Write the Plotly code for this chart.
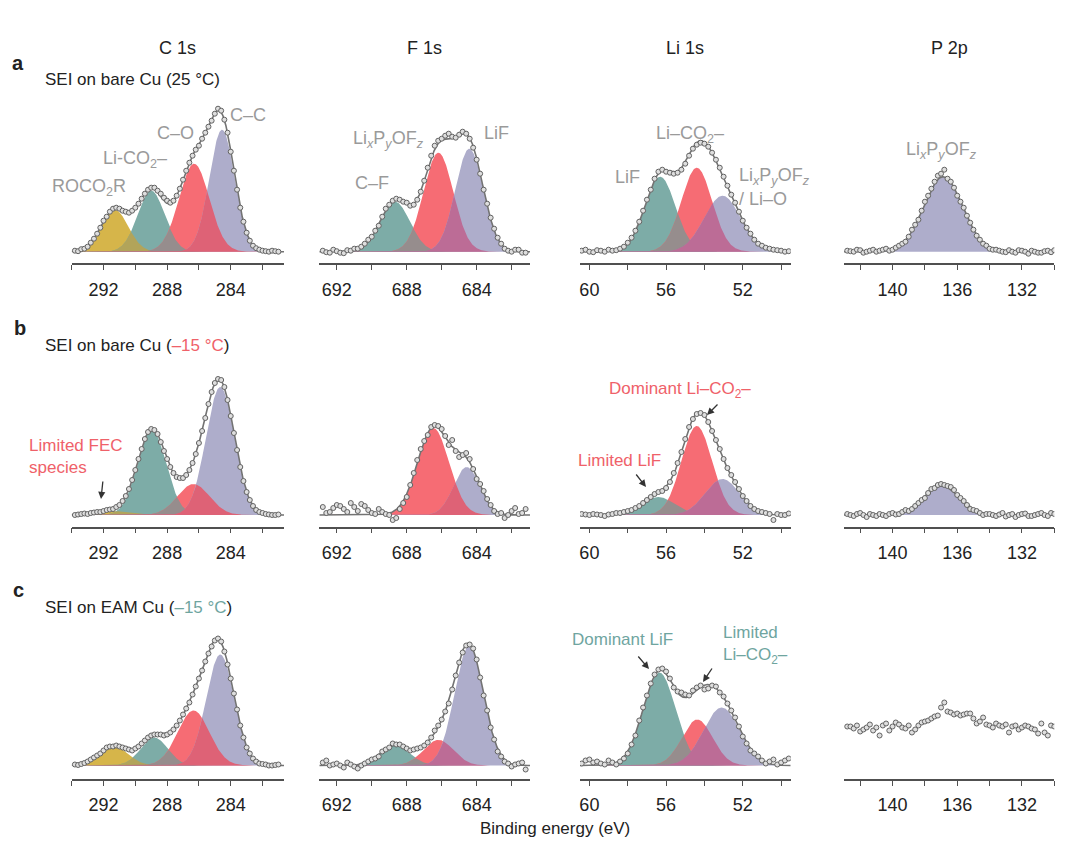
import numpy as np
import plotly.graph_objects as go

# ---------------- data: energy grids of the measured points (eV) ----------------
E_C1S = [293.8, 293.6, 293.4, 293.2, 293.0, 292.8, 292.6, 292.4, 292.2, 292.0,
         291.8, 291.6, 291.4, 291.2, 291.0, 290.8, 290.6, 290.4, 290.2, 290.0,
         289.8, 289.6, 289.4, 289.2, 289.0, 288.8, 288.6, 288.4, 288.2, 288.0,
         287.8, 287.6, 287.4, 287.2, 287.0, 286.8, 286.6, 286.4, 286.2, 286.0,
         285.8, 285.6, 285.4, 285.2, 285.0, 284.8, 284.6, 284.4, 284.2, 284.0,
         283.8, 283.6, 283.4, 283.2, 283.0, 282.8, 282.6, 282.4, 282.2, 282.0,
         281.8, 281.6, 281.4, 281.2, 281.0]
E_F1S = [692.8, 692.6, 692.4, 692.2, 692.0, 691.8, 691.6, 691.4, 691.2, 691.0,
         690.8, 690.6, 690.4, 690.2, 690.0, 689.8, 689.6, 689.4, 689.2, 689.0,
         688.8, 688.6, 688.4, 688.2, 688.0, 687.8, 687.6, 687.4, 687.2, 687.0,
         686.8, 686.6, 686.4, 686.2, 686.0, 685.8, 685.6, 685.4, 685.2, 685.0,
         684.8, 684.6, 684.4, 684.2, 684.0, 683.8, 683.6, 683.4, 683.2, 683.0,
         682.8, 682.6, 682.4, 682.2, 682.0, 681.8, 681.6, 681.4, 681.2]
E_LI1S = [60.4, 60.2, 60.0, 59.8, 59.6, 59.4, 59.2, 59.0, 58.8, 58.6,
          58.4, 58.2, 58.0, 57.8, 57.6, 57.4, 57.2, 57.0, 56.8, 56.6,
          56.4, 56.2, 56.0, 55.8, 55.6, 55.4, 55.2, 55.0, 54.8, 54.6,
          54.4, 54.2, 54.0, 53.8, 53.6, 53.4, 53.2, 53.0, 52.8, 52.6,
          52.4, 52.2, 52.0, 51.8, 51.6, 51.4, 51.2, 51.0, 50.8, 50.6,
          50.4, 50.2, 50.0, 49.8, 49.6]
E_P2P = [142.8, 142.6, 142.4, 142.2, 142.0, 141.8, 141.6, 141.4, 141.2, 141.0,
         140.8, 140.6, 140.4, 140.2, 140.0, 139.8, 139.6, 139.4, 139.2, 139.0,
         138.8, 138.6, 138.4, 138.2, 138.0, 137.8, 137.6, 137.4, 137.2, 137.0,
         136.8, 136.6, 136.4, 136.2, 136.0, 135.8, 135.6, 135.4, 135.2, 135.0,
         134.8, 134.6, 134.4, 134.2, 134.0, 133.8, 133.6, 133.4, 133.2, 133.0,
         132.8, 132.6, 132.4, 132.2, 132.0, 131.8, 131.6, 131.4, 131.2, 131.0,
         130.8, 130.6, 130.4, 130.2, 130.0]

# ---------------- measured intensities (arb. units) ----------------
A_C1S = [1, 0.5, 2.5, 3, 5, 9, 13, 18, 24, 31,
         35, 40, 43, 44, 43, 41, 40, 39, 41, 44,
         48, 53, 58, 62, 64, 64, 61, 58, 54, 51,
         49, 51, 56, 63, 72, 81, 89, 96, 102, 106,
         113, 119, 125, 131, 138, 143, 141, 132, 119, 100,
         81, 62, 44, 30, 19, 11, 6, 3.5, 2, 1,
         0.5, 0, 1, 0.5, 0]
A_F1S = [1, -0.5, -1, 2, 0.5, -1, -1.5, 1.5, 1, 3,
         3, 5, 8, 12, 15, 21, 26, 35, 43, 47,
         51, 53, 52, 50, 49, 46, 47, 52, 60, 71,
         84, 96, 106, 111, 113, 116, 118, 115, 114, 117,
         120, 118, 113, 104, 92, 78, 62, 48, 34, 23,
         14, 8, 3, 1, 0, 2, 2, -1, -1]
A_LI1S = [1, 2, 0, -0.5, 1.5, 1, 0, 2, 1, 1.5,
          3, 5, 9, 14, 21, 30, 41, 52, 62, 73,
          80, 82, 80, 79, 78, 79, 82, 88, 96, 103,
          107, 109, 108, 105, 99, 92, 84, 75, 66, 57,
          49, 40, 31, 24, 18, 12, 8, 6, 4, 3,
          2, 1.5, 1, 0, 0.5]
A_P2P = [1, 0.5, 0, 2, 1.5, -1, 0, 1, 2, 0,
         1, 2, 3, 1, 2, 4, 6, 8, 10, 15,
         22, 27, 32, 41, 50, 56, 63, 70, 76, 78,
         82, 73, 70, 64, 56, 50, 44, 36, 29, 22,
         16, 12, 8, 6, 3, 2, 2, 1, 0, -0.5,
         1.5, 0, -1, 1.5, 1, 0, -2, 1, 0, -1,
         -1, 0.5, 1, -0.5, 1.5]

B_C1S = [0, 0.5, 1, 1.5, 1, 2, 2.5, 3, 3, 4,
         5, 5.5, 6, 8, 10, 14, 19, 26, 35, 45,
         56, 66, 76, 83, 86, 85, 81, 73, 64, 56,
         48, 42, 38, 37, 37, 40, 45, 52, 61, 72,
         84, 97, 111, 123, 132, 136, 135, 128, 115, 99,
         82, 65, 48, 34, 23, 15, 9, 5, 3, 2,
         1, 0.5, 0, 0, 0.5]
B_F1S = [8, 2, 3, 7, 10, 9, 6, 3, 12, 8,
         4, 11, 9, 5, 2, 1, 6, 3, 1, 0,
         -5, -3, 6, 12, 18, 30, 42, 55, 66, 74,
         80, 88, 90, 89, 86, 79, 70, 75, 64, 58,
         60, 62, 56, 46, 36, 31, 24, 16, 10, 4,
         1, 2, -3, 0, 4, 7, 1, 2, 6]
B_LI1S = [1, 0.5, 0, 1, 0.5, 0, -1, 0.5, 1, 2,
          2, 3, 4, 5, 7, 9, 12, 15, 18, 21,
          23, 24, 27, 33, 42, 52, 63, 76, 88, 96,
          101, 102, 100, 93, 84, 75, 66, 56, 47, 40,
          33, 26, 19, 14, 9, 6, 4, 3, 2, 1,
          -5, 1, 0, 0, 1.5]
B_P2P = [1, 0, -1, 1, 2, 0, -2, 1, 0, -1,
         1, 0, -1, 1, 2, 0.5, 1, 3, 5, 4,
         6, 9, 12, 15, 17, 22, 26, 27, 30, 31,
         30, 29, 28, 25, 20, 17, 14, 10, 6, 5,
         4, 2, 0, 1, 1, 0, -1, 0.5, 2, -1.5,
         0, 1, -2, 0, 1, 1.5, -1, -1, 0, 1,
         2, 0, -1, 2, 1]

C_C1S = [1, 0.5, 1.5, 2.5, 4, 6, 8, 10, 12, 15,
         18, 19, 19, 20, 19, 18, 17, 16, 15, 17,
         19, 22, 25, 28, 30, 31, 31, 31, 30, 31,
         33, 36, 40, 45, 51, 57, 63, 71, 79, 87,
         95, 104, 112, 119, 125, 127, 124, 114, 101, 87,
         72, 56, 40, 28, 18, 12, 7, 4, 2, 1.5,
         1, 0, 0, 0.5, 1]
C_F1S = [3, 5, 0, 1, 2, 0, -2, 3, 1, -1,
         -3, 0, 2, 4, 6, 7, 9, 14, 16, 18,
         22, 21, 21, 19, 17, 15, 16, 17, 18, 20,
         23, 28, 35, 40, 46, 54, 62, 76, 90, 103,
         113, 120, 121, 117, 106, 88, 70, 55, 38, 26,
         14, 9, 4, 2, -1, 1, 2, 3, -4]
C_LI1S = [2, 5, 6, 3, 4, 2, 1, 5, 3, 1,
          4, 7, 12, 21, 30, 45, 58, 70, 82, 91,
          96, 97, 94, 87, 78, 74, 73, 71, 70, 75,
          78, 80, 76, 77, 80, 79, 73, 69, 62, 55,
          48, 39, 29, 22, 15, 12, 9, 5, 2, 4,
          6, 1, 3, 5, 7]
C_P2P = [39, 39, 37, 40, 34, 36, 38, 41, 35, 38,
         30, 40, 42, 35, 39, 43, 41, 38, 37, 40,
         33, 36, 40, 43, 44, 45, 47, 49, 50, 58,
         63, 54, 53, 51, 52, 50, 51, 52, 52, 47,
         42, 44, 48, 41, 40, 38, 42, 40, 39, 41,
         33, 39, 40, 36, 38, 40, 39, 37, 36, 32,
         42, 33, 30, 40, 39]

# ---------------- fitted components: (centre eV, height, sigma eV) ----------------
A_C1S_FIT = [(291.3, 42, 0.85), (289.0, 61, 0.85), (286.3, 88, 0.95), (284.55, 122, 0.8)]
A_F1S_FIT = [(688.67, 50, 0.85), (686.19, 99, 0.85), (684.42, 103, 0.8)]
A_LI1S_FIT = [(56.31, 75, 0.8), (54.4, 84, 0.8), (53.06, 56, 0.95)]
A_P2P_FIT = [(136.87, 75, 1.2)]

B_C1S_FIT = [(291.5, 4, 1.0), (288.96, 85, 0.9), (286.34, 31, 1.0), (284.66, 128, 0.9)]
B_F1S_FIT = [(686.48, 87, 0.9), (684.57, 48, 0.75)]
B_LI1S_FIT = [(56.4, 18, 0.85), (54.4, 89, 0.8), (53.06, 36, 0.9)]
B_P2P_FIT = [(136.98, 29, 1.1)]

C_C1S_FIT = [(291.37, 19.3, 0.9), (288.81, 28, 0.85), (286.34, 55, 1.0), (284.66, 111, 0.88)]
C_F1S_FIT = [(688.67, 20, 0.85), (686.19, 25.7, 0.85), (684.44, 119, 0.83)]
C_LI1S_FIT = [(56.35, 93, 0.85), (54.37, 46, 0.8), (53.1, 58, 0.95)]
C_P2P_FIT = []

# component species (colour keys)
KEYS_C1S = ["Y", "T", "R", "L"]
KEYS_F1S3 = ["T", "R", "L"]
KEYS_F1S2 = ["R", "L"]
KEYS_LI1S = ["T", "R", "L"]
KEYS_P2P = ["L"]

# ---------------- styling ----------------
FILL = {"Y": "rgb(214,181,74)", "T": "rgb(125,172,167)", "R": "rgb(246,108,116)",
        "L": "rgb(174,173,203)"}
OVER = {("Y", "T"): "rgb(178,164,90)", ("T", "R"): "rgb(150,141,141)",
        ("R", "L"): "rgb(188,108,150)", ("T", "L"): "rgb(140,150,168)",
        ("Y", "R"): "rgb(200,130,90)", ("Y", "L"): "rgb(160,150,150)"}
ROSE_RL = "rgb(222,98,118)"
RED_TXT = "#ef6169"
TEAL_TXT = "#6fa59f"
GRAY_TXT = "#9a9a9a"
DARK = "#222222"
FONT = "Liberation Sans, Arial, sans-serif"

PAGE_MARGIN = 8           # default body margin of the html page
W, H = 1080 - PAGE_MARGIN, 856 - PAGE_MARGIN
COL_X_PX = [(71.7, 284.0), (319.3, 530.0), (580.0, 790.7), (844.0, 1054.3)]
COL_RANGE = [(294.0, 280.65), (693.0, 680.95), (60.49, 49.5), (143.0, 130.0)]
COL_TICK0 = [284, 684, 52, 132]
ROW_AXIS_PX = [263.4, 526.7, 779.0]
ROW_GAP = [11.7, 11.7, 13.5]
PANEL_H = 175

panels = [
    (0, 0, E_C1S, A_C1S, A_C1S_FIT, KEYS_C1S, ROSE_RL),
    (0, 1, E_F1S, A_F1S, A_F1S_FIT, KEYS_F1S3, None),
    (0, 2, E_LI1S, A_LI1S, A_LI1S_FIT, KEYS_LI1S, None),
    (0, 3, E_P2P, A_P2P, A_P2P_FIT, KEYS_P2P, None),
    (1, 0, E_C1S, B_C1S, B_C1S_FIT, KEYS_C1S, ROSE_RL),
    (1, 1, E_F1S, B_F1S, B_F1S_FIT, KEYS_F1S2, ROSE_RL),
    (1, 2, E_LI1S, B_LI1S, B_LI1S_FIT, KEYS_LI1S, None),
    (1, 3, E_P2P, B_P2P, B_P2P_FIT, KEYS_P2P, None),
    (2, 0, E_C1S, C_C1S, C_C1S_FIT, KEYS_C1S, ROSE_RL),
    (2, 1, E_F1S, C_F1S, C_F1S_FIT, KEYS_F1S3, None),
    (2, 2, E_LI1S, C_LI1S, C_LI1S_FIT, KEYS_LI1S, None),
    (2, 3, E_P2P, C_P2P, C_P2P_FIT, [], None),
]


def px(x):
    return (x - PAGE_MARGIN) / W


def py(y):
    return 1 - (y - PAGE_MARGIN) / H


def gauss(x, c, h, s):
    return h * np.exp(-(x - c) ** 2 / (2 * s * s))


fig = go.Figure()
layout = {}

for k, (r, c, en, counts, fit, keys, rl_col) in enumerate(panels, start=1):
    xa = "x" if k == 1 else f"x{k}"
    ya = "y" if k == 1 else f"y{k}"
    lo, hi = COL_RANGE[c]
    xf = np.linspace(lo, hi, 600)
    comps = [gauss(xf, *p) for p in fit]
    for g, key in zip(comps, keys):
        fig.add_trace(go.Scatter(x=xf, y=g, mode="lines", fill="tozeroy",
                                 fillcolor=FILL[key], line=dict(width=0),
                                 hoverinfo="skip", xaxis=xa, yaxis=ya))
    for i in range(len(comps)):
        for j in range(i + 1, len(comps)):
            m = np.minimum(comps[i], comps[j])
            if m.max() < 0.8:
                continue
            pair = (keys[i], keys[j])
            col = OVER.get(pair, OVER.get((pair[1], pair[0]), "rgb(150,150,150)"))
            if rl_col and set(pair) == {"R", "L"}:
                col = rl_col
            fig.add_trace(go.Scatter(x=xf, y=m, mode="lines", fill="tozeroy",
                                     fillcolor=col, line=dict(width=0),
                                     hoverinfo="skip", xaxis=xa, yaxis=ya))
    if comps:
        env = np.sum(comps, axis=0)
        fig.add_trace(go.Scatter(x=xf, y=env, mode="lines",
                                 line=dict(color="rgb(115,115,115)", width=1.6),
                                 hoverinfo="skip", xaxis=xa, yaxis=ya))
    fig.add_trace(go.Scatter(x=en, y=counts, mode="markers",
                             marker=dict(symbol="circle", size=5,
                                         color="rgb(222,222,222)",
                                         line=dict(color="rgb(98,98,98)", width=1)),
                             hoverinfo="skip", xaxis=xa, yaxis=ya))

    x0, x1 = COL_X_PX[c]
    axis_y = ROW_AXIS_PX[r]
    gap = ROW_GAP[r]
    xname = "xaxis" if k == 1 else f"xaxis{k}"
    yname = "yaxis" if k == 1 else f"yaxis{k}"
    layout[xname] = dict(
        domain=[px(x0), px(x1)], anchor=ya, range=[lo, hi],
        showline=True, linecolor="rgb(80,80,80)", linewidth=1.5,
        ticks="outside", ticklen=5, tickwidth=1.3, tickcolor="rgb(80,80,80)",
        tick0=COL_TICK0[c], dtick=4, ticklabelstandoff=4,
        tickfont=dict(size=18, color=DARK, family=FONT),
        minor=dict(ticks="outside", ticklen=5, tickwidth=1.3,
                   tickcolor="rgb(80,80,80)", dtick=2, tick0=COL_TICK0[c]),
        showgrid=False, zeroline=False, fixedrange=True)
    layout[yname] = dict(
        domain=[py(axis_y), py(axis_y - PANEL_H)], anchor=xa,
        range=[-gap, PANEL_H - gap], visible=False, fixedrange=True)

ann = []


def text(t, x, y, size=18, color=DARK, xanchor="center", align="center", bold=False):
    ann.append(dict(text=f"<b>{t}</b>" if bold else t, x=px(x), y=py(y),
                    xref="paper", yref="paper", xanchor=xanchor, yanchor="middle",
                    align=align, showarrow=False,
                    font=dict(size=size, color=color, family=FONT)))


def arrow(tx, ty, hx, hy):
    ann.append(dict(text="", x=px(hx), y=py(hy), xref="paper", yref="paper",
                    ax=tx - hx, ay=ty - hy, showarrow=True, arrowhead=2,
                    arrowsize=1.1, arrowwidth=1.3, arrowcolor="#333333"))


# column titles
for t, (x0, x1) in zip(["C 1s", "F 1s", "Li 1s", "P 2p"], COL_X_PX):
    text(t, (x0 + x1) / 2, 48, size=18)

# panel letters and row subtitles
text("a", 18, 63, size=20, bold=True)
text("b", 20, 328, size=20, bold=True)
text("c", 18, 590, size=20, bold=True)
text("SEI on bare Cu (25 °C)", 43, 80, size=17, xanchor="left")
text(f"SEI on bare Cu (<span style='color:{RED_TXT}'>–15 °C</span>)", 43, 345,
     size=17, xanchor="left")
text(f"SEI on EAM Cu (<span style='color:{TEAL_TXT}'>–15 °C</span>)", 43, 607,
     size=17, xanchor="left")

LIPOF = "Li<sub><i>x</i></sub>P<sub><i>y</i></sub>OF<sub><i>z</i></sub>"
# row a peak labels
text("ROCO<sub>2</sub>R", 89, 187, color=GRAY_TXT)
text("Li-CO<sub>2</sub>–", 135, 160, color=GRAY_TXT)
text("C–O", 175, 133, color=GRAY_TXT)
text("C–C", 248, 115, color=GRAY_TXT)
text(LIPOF, 388, 139, color=GRAY_TXT)
text("LiF", 496, 133, color=GRAY_TXT)
text("C–F", 372, 183, color=GRAY_TXT)
text("Li–CO<sub>2</sub>–", 690, 134, color=GRAY_TXT)
text("LiF", 627, 177, color=GRAY_TXT)
text(LIPOF, 774, 176, color=GRAY_TXT)
text("/ Li–O", 737, 199, color=GRAY_TXT, xanchor="left")
text(LIPOF, 941, 150, color=GRAY_TXT)

# row b annotations
text("Limited FEC<br>species", 27, 457, size=17, color=RED_TXT, xanchor="left",
     align="left")
arrow(103, 480, 101, 499)
text("Dominant Li–CO<sub>2</sub>–", 680, 390, size=17, color=RED_TXT)
arrow(719, 403, 707, 415)
text("Limited LiF", 619, 460, size=17, color=RED_TXT)
arrow(635, 473, 646, 487)

# row c annotations
text("Dominant LiF", 622, 639, size=17, color=TEAL_TXT)
arrow(637, 655, 649, 669)
text("Limited<br>Li–CO<sub>2</sub>–", 721, 645, size=17, color=TEAL_TXT,
     xanchor="left", align="left")
arrow(713, 667, 703, 682)

# common x title
text("Binding energy (eV)", 555, 828, size=17)

fig.update_layout(
    width=W, height=H, margin=dict(l=0, r=0, t=0, b=0),
    paper_bgcolor="white", plot_bgcolor="white", showlegend=False,
    font=dict(family=FONT, color=DARK), annotations=ann, **layout)

fig.write_html("out.html")
